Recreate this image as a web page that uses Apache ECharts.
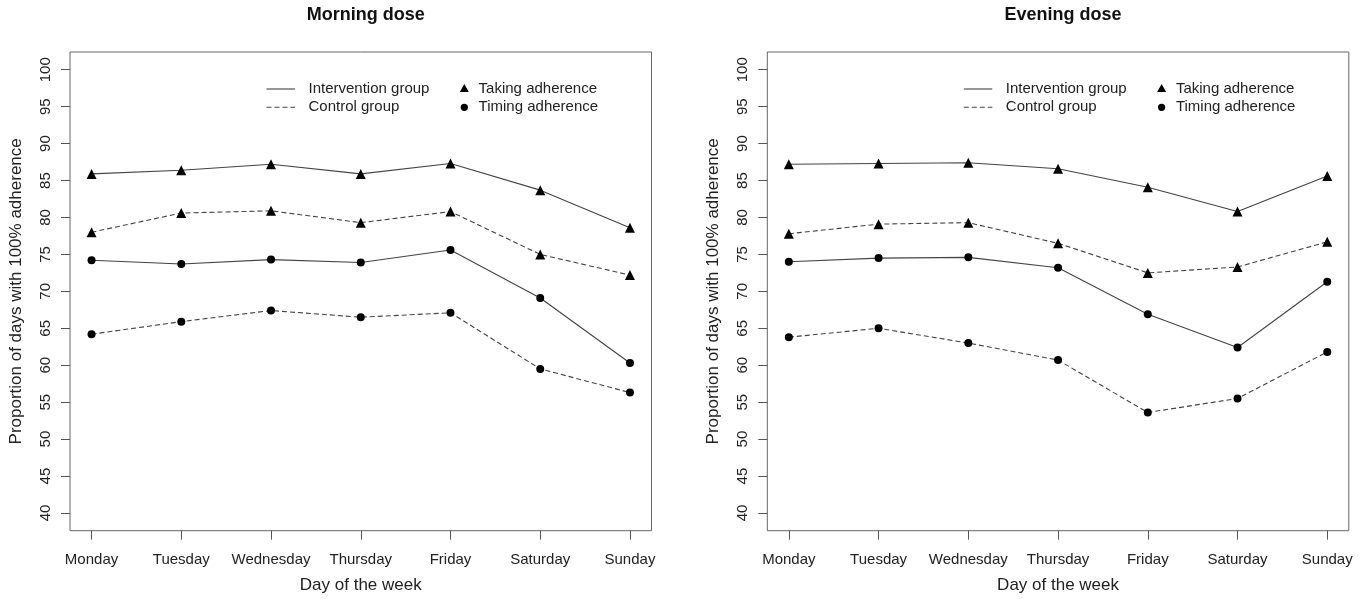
<!DOCTYPE html>
<html><head><meta charset="utf-8">
<script src="https://cdn.jsdelivr.net/npm/echarts@6/dist/echarts.min.js"></script>
<style>html,body{margin:0;padding:0;background:#fff}#c{width:1368px;height:599px}</style>
</head><body><div id="c"></div>
<script>
const days = ['Monday', 'Tuesday', 'Wednesday', 'Thursday', 'Friday', 'Saturday', 'Sunday'];
const dayTicks = [1, 2, 3, 4, 5, 6, 7];
const yTicks = [40, 45, 50, 55, 60, 65, 70, 75, 80, 85, 90, 95, 100];
const panelTitles = ['Morning dose', 'Evening dose'];
const legendGroups = ['Intervention group', 'Control group'];
const legendMeasures = ['Taking adherence', 'Timing adherence'];

const morningInterventionTaking = [85.9, 86.4, 87.2, 85.9, 87.3, 83.7, 78.6];
const morningControlTaking = [78.0, 80.6, 80.9, 79.3, 80.8, 75.0, 72.2];
const morningInterventionTiming = [74.2, 73.7, 74.3, 73.9, 75.6, 69.1, 60.3];
const morningControlTiming = [64.2, 65.9, 67.4, 66.5, 67.1, 59.5, 56.3];

const eveningInterventionTaking = [87.2, 87.3, 87.4, 86.6, 84.1, 80.8, 85.6];
const eveningControlTaking = [77.8, 79.1, 79.3, 76.5, 72.5, 73.3, 76.7];
const eveningInterventionTiming = [74.0, 74.5, 74.6, 73.2, 66.9, 62.4, 71.3];
const eveningControlTiming = [63.8, 65.0, 63.0, 60.7, 53.6, 55.5, 61.8];

const FONT = '"Liberation Sans", Arial, Helvetica, sans-serif';
const TXT = '#222';
const boxLefts = [70, 767.3];
const boxW = 581.5, boxTop = 52, boxH = 478.7;

function toPts(arr) { return arr.map((v, i) => [dayTicks[i], v]); }

const grids = boxLefts.map(l => ({
  left: l, top: boxTop, width: boxW, height: boxH,
  show: true, borderColor: '#666', borderWidth: 1, backgroundColor: 'transparent', containLabel: false
}));

const xAxes = boxLefts.map((l, g) => ({
  type: 'value', gridIndex: g, min: 0.76, max: 7.24,
  axisLine: { show: false, onZero: false },
  axisTick: { show: true, customValues: dayTicks, length: 9, lineStyle: { color: '#555', width: 1 } },
  axisLabel: { show: true, customValues: dayTicks, formatter: v => days[Math.round(v) - 1], margin: 22,
    fontSize: 15, color: TXT, fontFamily: FONT },
  splitLine: { show: false },
  name: 'Day of the week', nameLocation: 'middle', nameGap: 46,
  nameTextStyle: { fontSize: 17, color: TXT, fontFamily: FONT }
}));

const yAxes = boxLefts.map((l, g) => ({
  type: 'value', gridIndex: g, min: 37.6, max: 102.4,
  axisLine: { show: false, onZero: false },
  axisTick: { show: true, customValues: yTicks, length: 9, lineStyle: { color: '#555', width: 1 } },
  axisLabel: { show: true, customValues: yTicks, rotate: 90, margin: 17,
    fontSize: 15, color: TXT, fontFamily: FONT },
  splitLine: { show: false },
  name: 'Proportion of days with 100% adherence', nameLocation: 'middle', nameGap: 45, nameRotate: 90,
  nameTextStyle: { fontSize: 17, color: TXT, fontFamily: FONT }
}));

function mkSeries(name, arr, g, dashed, sym) {
  return {
    name: name, type: 'line', xAxisIndex: g, yAxisIndex: g,
    data: toPts(arr),
    symbol: sym, symbolSize: sym === 'triangle' ? 10 : 8,
    showSymbol: true, silent: true, animation: false,
    itemStyle: { color: '#000' },
    lineStyle: { color: '#444', width: 1.1, type: dashed ? [5, 3] : 'solid' }
  };
}

const series = [
  mkSeries('Morning intervention taking', morningInterventionTaking, 0, false, 'triangle'),
  mkSeries('Morning control taking', morningControlTaking, 0, true, 'triangle'),
  mkSeries('Morning intervention timing', morningInterventionTiming, 0, false, 'circle'),
  mkSeries('Morning control timing', morningControlTiming, 0, true, 'circle'),
  mkSeries('Evening intervention taking', eveningInterventionTaking, 1, false, 'triangle'),
  mkSeries('Evening control taking', eveningControlTaking, 1, true, 'triangle'),
  mkSeries('Evening intervention timing', eveningInterventionTiming, 1, false, 'circle'),
  mkSeries('Evening control timing', eveningControlTiming, 1, true, 'circle')
];

const titles = boxLefts.map((l, g) => ({
  text: panelTitles[g], left: l + boxW / 2, top: 1, textAlign: 'center',
  textStyle: { fontSize: 18, fontWeight: 'bold', color: '#111', fontFamily: FONT }
}));

const graphics = [];
boxLefts.forEach(bx => {
  const rows = [89, 107.3];
  rows.forEach((y, r) => {
    graphics.push({ type: 'line', silent: true,
      shape: { x1: bx + 196.5, y1: y, x2: bx + 225, y2: y },
      style: { stroke: '#444', lineWidth: 1.1, lineDash: r === 1 ? [5, 3] : null } });
    graphics.push({ type: 'text', silent: true, x: bx + 238.5, y: y,
      style: { text: legendGroups[r], font: '15px ' + FONT, fill: TXT, verticalAlign: 'middle', align: 'left' } });
    graphics.push({ type: 'text', silent: true, x: bx + 408.6, y: y,
      style: { text: legendMeasures[r], font: '15px ' + FONT, fill: TXT, verticalAlign: 'middle', align: 'left' } });
  });
  const cx = bx + 394.3;
  graphics.push({ type: 'polygon', silent: true,
    shape: { points: [[cx - 4.5, 92], [cx + 4.5, 92], [cx, 84]] }, style: { fill: '#000' } });
  graphics.push({ type: 'circle', silent: true,
    shape: { cx: cx, cy: 107.3, r: 3.6 }, style: { fill: '#000' } });
});

const chart = echarts.init(document.getElementById('c'), null, { renderer: 'canvas' });
chart.setOption({
  animation: false,
  backgroundColor: '#fff',
  title: titles,
  grid: grids,
  xAxis: xAxes,
  yAxis: yAxes,
  series: series,
  graphic: graphics
});
</script>
</body></html>
